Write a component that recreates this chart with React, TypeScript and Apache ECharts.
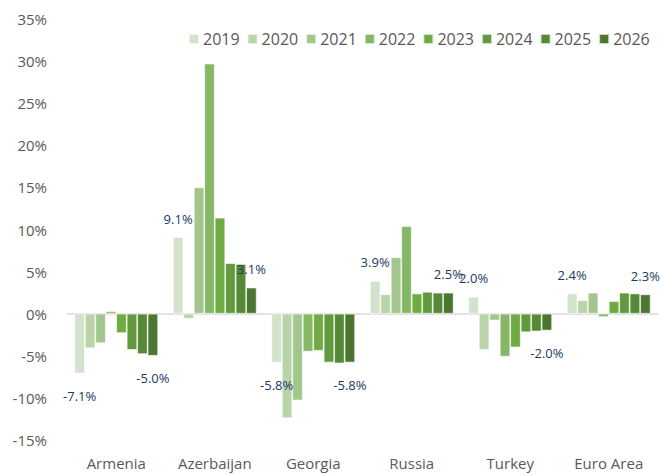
import React, { useEffect, useRef } from "react";
import * as echarts from "echarts";

const categories = ["Armenia", "Azerbaijan", "Georgia", "Russia", "Turkey", "Euro Area"];
const years = ["2019", "2020", "2021", "2022", "2023", "2024", "2025", "2026"];

const v2019 = [-7.1, 9.1, -5.8, 3.9, 2.0, 2.4];
const v2020 = [-4.1, -0.6, -12.4, 2.3, -4.3, 1.6];
const v2021 = [-3.5, 15.0, -10.3, 6.7, -0.8, 2.5];
const v2022 = [0.3, 29.7, -4.5, 10.4, -5.1, -0.4];
const v2023 = [-2.3, 11.4, -4.4, 2.4, -4.0, 1.5];
const v2024 = [-4.3, 6.0, -5.8, 2.6, -2.2, 2.5];
const v2025 = [-4.8, 5.9, -5.9, 2.5, -2.1, 2.4];
const v2026 = [-5.0, 3.1, -5.8, 2.5, -2.0, 2.3];

const seriesValues = [v2019, v2020, v2021, v2022, v2023, v2024, v2025, v2026];
const labelledYears = ["2019", "2026"];

const colors = ["#D3E2CB", "#B8D4A8", "#A2C68C", "#85B766", "#6FAA43", "#62993E", "#558936", "#4B7530"];

const FONT = "'Open Sans', 'Noto Sans', sans-serif";

export default function App() {
  const ref = useRef<HTMLDivElement>(null);

  useEffect(() => {
    if (!ref.current) return;
    const chart = echarts.init(ref.current, undefined, { renderer: "svg" });

    const series = years.map((year, i) => {
      const showLabel = labelledYears.includes(year);
      const data = seriesValues[i].map((v) =>
        showLabel
          ? {
              value: v,
              label: {
                show: true,
                position: v < 0 ? "bottom" : "top",
                distance: v < 0 ? 16 : 12,
                formatter: (p: any) => `${Number(p.value).toFixed(1)}%`,
                color: "#203864",
                fontSize: 13,
                fontFamily: FONT,
              },
            }
          : v
      );
      const s: any = {
        name: year,
        type: "bar",
        data,
        barGap: "0%",
        barCategoryGap: "15%",
        itemStyle: {
          color: colors[i],
          borderColor: "rgba(255,255,255,0.7)",
          borderWidth: 0.8,
        },
      };
      if (i === 0) {
        s.markLine = {
          silent: true,
          symbol: "none",
          label: { show: false },
          lineStyle: { color: "#D9D9D9", width: 1.5, type: "solid" },
          data: [{ yAxis: 0 }],
          z: 1,
        };
      }
      return s;
    });

    chart.setOption({
      animation: false,
      backgroundColor: "#ffffff",
      textStyle: { fontFamily: FONT },
      legend: {
        data: years,
        left: 188,
        top: 31,
        width: 472,
        padding: 0,
        itemWidth: 10,
        itemHeight: 10,
        itemGap: 7,
        icon: "rect",
        textStyle: { color: "#595959", fontSize: 16, fontFamily: FONT, padding: [0, 0, 0, -1] },
      },
      grid: { left: 67, right: 2, top: 19, bottom: 35, containLabel: false },
      xAxis: {
        type: "category",
        data: categories,
        axisLine: { show: false },
        axisTick: { show: false },
        axisLabel: { color: "#595959", fontSize: 15, fontFamily: FONT, margin: 15 },
        splitLine: { show: false },
      },
      yAxis: {
        type: "value",
        min: -15,
        max: 35,
        interval: 5,
        axisLine: { show: false },
        axisTick: { show: false },
        splitLine: { show: false },
        axisLabel: {
          formatter: "{value}%",
          color: "#595959",
          fontSize: 15,
          fontFamily: FONT,
          margin: 20,
        },
      },
      series,
    });

    return () => chart.dispose();
  }, []);

  return (
    <div
      ref={ref}
      style={{ position: "fixed", left: 0, top: 0, width: 660, height: 475, background: "#fff" }}
    />
  );
}
